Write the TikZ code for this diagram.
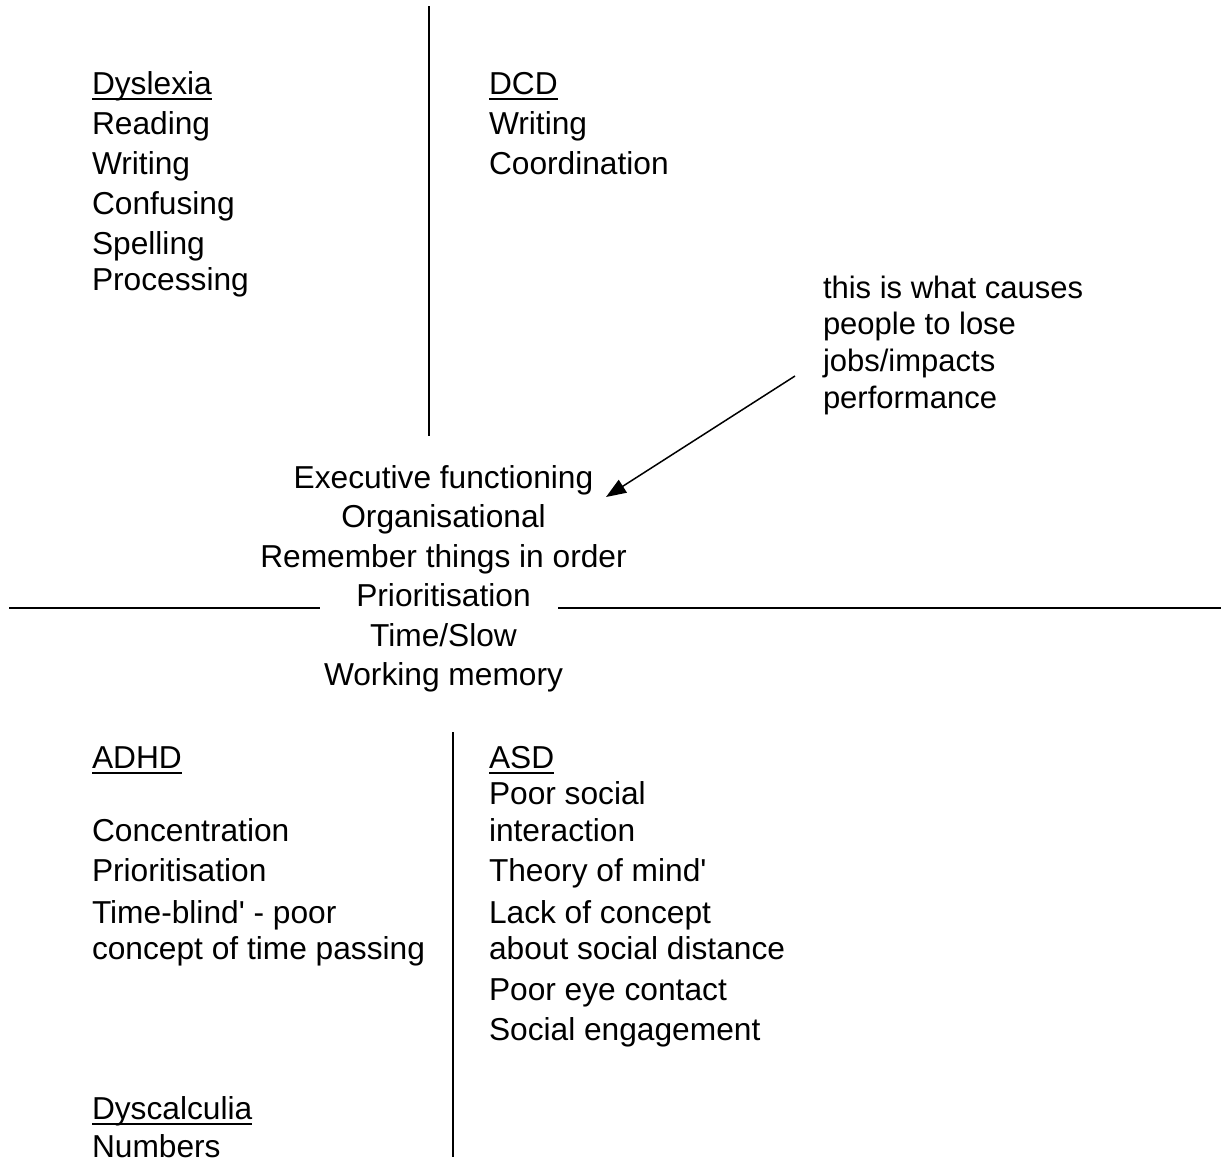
\documentclass[tikz,border=0pt]{standalone}
\usepackage{fontspec}
\setmainfont{Liberation Sans}
\usetikzlibrary{arrows.meta}
\newsavebox\ulbox
\newcommand\ulword[1]{\sbox\ulbox{#1}\rlap{\rule[-5.5pt]{\wd\ulbox}{2pt}}\usebox\ulbox}
\newcommand\firststrut{\rule{0pt}{24pt}}
\begin{document}
\begin{tikzpicture}[x=1pt,y=-1pt,
  block/.style={inner sep=0pt, outer sep=0pt, anchor=north west, align=left,
    font=\fontsize{31.7}{39.5}\selectfont},
  tight/.style={font=\fontsize{31.7}{36.5}\selectfont},
  rule/.style={line width=2pt, black},
  pointer/.style={line width=1.5pt, -{Triangle[length=20pt,width=15pt]}}]
\useasboundingbox (0,0) rectangle (1221,1157);

% text blocks
\node[block, font=\fontsize{31.7}{40}\selectfont] (dys) at (92,70) {\firststrut\ulword{Dyslexia}\\Reading\\Writing\\Confusing\\Spelling\\[-4pt]Processing};
\node[block, font=\fontsize{31.7}{40}\selectfont] (dcd) at (489,70) {\firststrut\ulword{DCD}\\Writing\\Coordination};
\node[block, font=\fontsize{31}{36.7}\selectfont] (note) at (823,274) {\firststrut this is what causes\\people to lose\\jobs/impacts\\performance};
\node[block, anchor=north, align=center] (ef) at (443.5,464) {\firststrut Executive functioning\\Organisational\\Remember things in order\\Prioritisation\\Time/Slow\\Working memory};
\node[block, tight] (adhd) at (92,744) {\firststrut\ulword{ADHD}\\[36.5pt]Concentration\\[3.5pt]Prioritisation\\[5.5pt]Time-blind\textquotesingle{} - poor\\concept of time passing};
\node[block, tight] (asd) at (489,744) {\firststrut\ulword{ASD}\\Poor social\\interaction\\[3.5pt]Theory of mind\textquotesingle\\[5.5pt]Lack of concept\\about social distance\\[4.5pt]Poor eye contact\\[3.5pt]Social engagement};
\node[block, font=\fontsize{31.7}{38}\selectfont] (dysc) at (92,1095) {\firststrut\ulword{Dyscalculia}\\Numbers};

% dividing lines
\coordinate (vt1) at (429,6);
\coordinate (vt2) at (429,436);
\coordinate (hl1) at (9,608);
\coordinate (hl2) at (320,608);
\coordinate (hr1) at (558,608);
\coordinate (hr2) at (1221,608);
\coordinate (vb1) at (453,732);
\coordinate (vb2) at (453,1157);
\draw[rule] (vt1) -- (vt2);
\draw[rule] (hl1) -- (hl2);
\draw[rule] (hr1) -- (hr2);
\draw[rule] (vb1) -- (vb2);

% arrow
\coordinate (arrs) at (795,376);
\coordinate (arrt) at (606,497);
\draw[pointer] (arrs) -- (arrt);
\end{tikzpicture}
\end{document}
